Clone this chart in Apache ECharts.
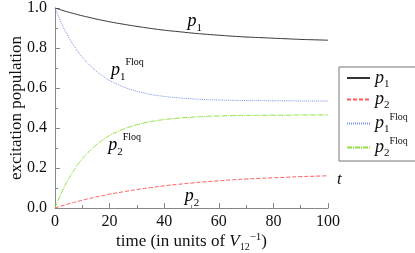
<!DOCTYPE html>
<html><head><meta charset="utf-8">
<script src="https://cdn.jsdelivr.net/npm/echarts@6/dist/echarts.min.js"></script>
<style>html,body{margin:0;padding:0;background:#fff}#c{width:415px;height:253px}</style>
</head><body><div id="c"></div>
<script>
var times = [0,2.5,5,7.5,10,12.5,15,17.5,20,25,30,35,40,45,50,55,60,65,70,75,80,85,90,95,100];
var p1 = [1,0.989,0.979,0.970,0.961,0.953,0.945,0.938,0.931,0.919,0.908,0.898,0.889,0.882,0.875,0.869,0.864,0.859,0.855,0.852,0.849,0.846,0.843,0.841,0.839];
var p2 = [0,0.011,0.021,0.030,0.039,0.047,0.055,0.062,0.069,0.081,0.092,0.102,0.111,0.118,0.125,0.131,0.136,0.141,0.145,0.148,0.151,0.154,0.157,0.159,0.161];
var p1F = [1,0.920,0.854,0.800,0.754,0.717,0.686,0.660,0.638,0.606,0.584,0.568,0.558,0.551,0.546,0.542,0.540,0.538,0.537,0.537,0.536,0.536,0.535,0.535,0.535];
var p2F = [0,0.080,0.146,0.200,0.246,0.283,0.314,0.340,0.362,0.394,0.416,0.432,0.442,0.449,0.454,0.458,0.460,0.462,0.463,0.463,0.464,0.464,0.465,0.465,0.465];
var xTicks = [0,20,40,60,80,100];
var yTicks = [0.0,0.2,0.4,0.6,0.8,1.0];
// curve annotations: [t, value] anchor of each label
var notes = [
  {n: 1, floq: false, at: [48.5, 0.935]},
  {n: 1, floq: true, at: [20.5, 0.69]},
  {n: 2, floq: true, at: [19.5, 0.315]},
  {n: 2, floq: false, at: [47.5, 0.06]}
];

var serif = '"Liberation Serif", "Times New Roman", serif';
function mkRich(lh, ps) {
  return {
    i: {fontFamily: serif, fontStyle: 'italic', fontSize: ps, color: '#111', verticalAlign: 'middle', lineHeight: lh},
    sub: {fontFamily: serif, fontSize: 11, color: '#111', verticalAlign: 'bottom', lineHeight: lh},
    sup: {fontFamily: serif, fontSize: 10, color: '#111', verticalAlign: 'top', lineHeight: lh}
  };
}
var numRich = {a: {fontFamily: serif, fontSize: 16, color: '#111'}};
function lab(n, floq) { return '{i|p}{sub|' + n + '}' + (floq ? '{sup|Floq}' : ''); }
function pairs(a) { return times.map(function (t, k) { return [t, a[k]]; }); }
var chart = echarts.init(document.getElementById('c'), null, {renderer: 'canvas'});
chart.setOption({
  animation: false,
  backgroundColor: '#fff',
  grid: {left: 55, right: 87, top: 8, bottom: 45, outerBoundsMode: 'none', containLabel: false},
  xAxis: {
    type: 'value', min: 0, max: 100, interval: 20,
    axisLine: {lineStyle: {color: '#888', width: 1}},
    axisTick: {inside: true, length: 5, lineStyle: {color: '#888'}},
    minorTick: {show: true, splitNumber: 2, length: 3, lineStyle: {color: '#888'}},
    splitLine: {show: false},
    axisLabel: {fontFamily: serif, fontSize: 16, color: '#111', margin: 6, rich: numRich,
      formatter: function (v) { return xTicks.indexOf(v) >= 0 ? '{a|' + v + '}' : ''; }},
    name: '{t|time (in units of }{v|V}{s|12}{p|−1}{t|)}',
    nameLocation: 'middle', nameGap: 24, nameMoveOverlap: false,
    nameTextStyle: {rich: {
      t: {fontFamily: serif, fontSize: 17, color: '#111', verticalAlign: 'middle', lineHeight: 20},
      v: {fontFamily: serif, fontStyle: 'italic', fontSize: 17, color: '#111', verticalAlign: 'middle', lineHeight: 20},
      s: {fontFamily: serif, fontSize: 10, color: '#111', verticalAlign: 'bottom', lineHeight: 20},
      p: {fontFamily: serif, fontSize: 11, color: '#111', verticalAlign: 'top', lineHeight: 20}
    }}
  },
  yAxis: {
    type: 'value', min: 0, max: 1, interval: 0.2,
    axisLine: {show: true, lineStyle: {color: '#888', width: 1}},
    axisTick: {show: true, inside: true, length: 5, lineStyle: {color: '#888'}},
    minorTick: {show: true, splitNumber: 2, length: 3, lineStyle: {color: '#888'}},
    splitLine: {show: false},
    axisLabel: {fontFamily: serif, fontSize: 16, color: '#111', margin: 8, rich: numRich,
      formatter: function (v) { return '{a|' + v.toFixed(1) + '}'; }},
    name: 'excitation population', nameLocation: 'middle', nameGap: 30, nameMoveOverlap: false,
    nameTextStyle: {fontFamily: serif, fontSize: 17, color: '#111'}
  },
  legend: {
    orient: 'vertical', left: 339, top: 67,
    padding: [2, 8, 2, 7], itemGap: 1,
    borderColor: '#777', borderWidth: 1,
    itemWidth: 23, itemHeight: 10,
    itemStyle: {opacity: 0},
    data: ['p1', 'p2', 'p1Floq', 'p2Floq'],
    formatter: function (n) {
      return {p1: lab(1), p2: lab(2), p1Floq: lab(1, true), p2Floq: lab(2, true)}[n];
    },
    textStyle: {rich: mkRich(23, 18)}
  },
  series: [
    {name: 'p1', type: 'line', data: pairs(p1), smooth: true, symbol: 'none',
      lineStyle: {color: '#333', width: 1, type: 'solid'}, itemStyle: {color: '#333'}},
    {name: 'p2', type: 'line', data: pairs(p2), smooth: true, symbol: 'none',
      lineStyle: {color: '#ff5a5a', width: 1, type: [4, 2]}, itemStyle: {color: '#ff5a5a'}},
    {name: 'p1Floq', type: 'line', data: pairs(p1F), smooth: true, symbol: 'none',
      lineStyle: {color: '#7b93f0', width: 1, type: [1, 1]}, itemStyle: {color: '#7b93f0'}},
    {name: 'p2Floq', type: 'line', data: pairs(p2F), smooth: true, symbol: 'none',
      lineStyle: {color: '#8fe040', width: 1, type: [5, 1, 1, 1]}, itemStyle: {color: '#8fe040'}}
  ]
});
var g = [{type: 'text', left: 337, top: 171, silent: true,
  style: {text: 't', font: 'italic 17px "Liberation Serif"', fill: '#111'}}];
notes.forEach(function (o) {
  var px = chart.convertToPixel({gridIndex: 0}, o.at);
  g.push({type: 'text', x: px[0], y: px[1], silent: true,
    style: {text: lab(o.n, o.floq), rich: mkRich(26, 18), verticalAlign: 'middle', align: 'left'}});
});
chart.setOption({graphic: g});
</script></body></html>
